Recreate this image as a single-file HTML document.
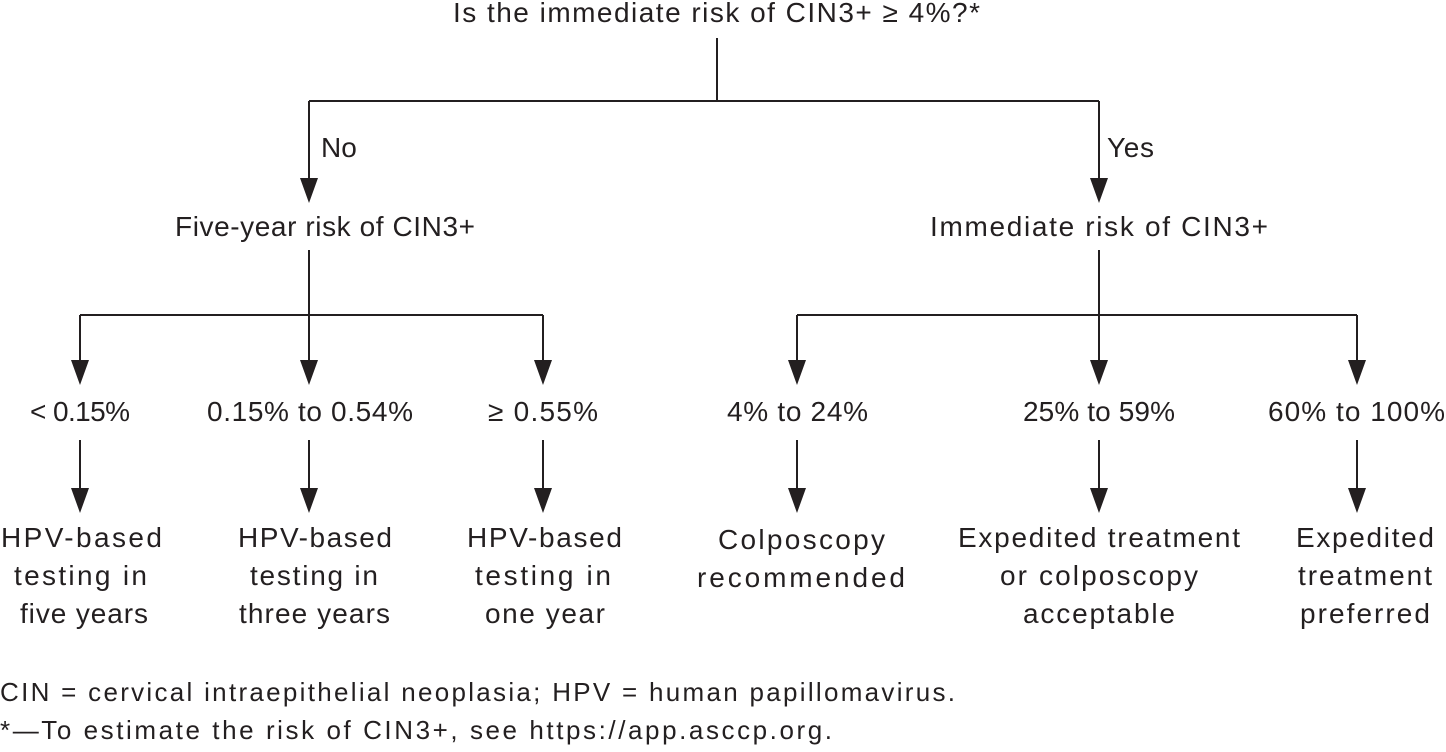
<!DOCTYPE html>
<html><head><style>
html,body{margin:0;padding:0;background:#fff;}
svg{display:block}
text{font-family:"Liberation Sans",sans-serif;fill:#231f20;font-size:28px;}
.f{font-size:26px}
</style></head><body>
<svg width="1446" height="752" viewBox="0 0 1446 752" xmlns="http://www.w3.org/2000/svg">
<g stroke="#231f20" stroke-width="2" fill="none">
<path d="M717,38 V101 M309,101 H1099"/>
<path d="M309,250 V315 M80,315 H543 M797,315 H1357 M1099,250 V315"/>
</g>
<g fill="#231f20">
<path d="M308,101h2v80h-2z M300,178h18l-9,25z"/>
<path d="M1098,101h2v80h-2z M1090,178h18l-9,25z"/>
<path d="M79,315h2v48h-2z M71,360h18l-9,25z"/>
<path d="M308,315h2v48h-2z M300,360h18l-9,25z"/>
<path d="M542,315h2v48h-2z M534,360h18l-9,25z"/>
<path d="M796,315h2v48h-2z M788,360h18l-9,25z"/>
<path d="M1098,315h2v48h-2z M1090,360h18l-9,25z"/>
<path d="M1356,315h2v48h-2z M1348,360h18l-9,25z"/>
<path d="M79,440h2v50h-2z M71,488h18l-9,25z"/>
<path d="M308,440h2v50h-2z M300,488h18l-9,25z"/>
<path d="M542,440h2v50h-2z M534,488h18l-9,25z"/>
<path d="M796,440h2v50h-2z M788,488h18l-9,25z"/>
<path d="M1098,440h2v50h-2z M1090,488h18l-9,25z"/>
<path d="M1356,440h2v50h-2z M1348,488h18l-9,25z"/>
</g>
<g lengthAdjust="spacing">
<text x="453" y="22" textLength="527">Is the immediate risk of CIN3+ ≥ 4%?*</text>
<text x="175" y="236" textLength="300">Five-year risk of CIN3+</text>
<text x="930" y="236" textLength="338">Immediate risk of CIN3+</text>
<text x="30" y="421" textLength="100">&lt; 0.15%</text>
<text x="207" y="421" textLength="206">0.15% to 0.54%</text>
<text x="488" y="421" textLength="110">≥ 0.55%</text>
<text x="727" y="421" textLength="141">4% to 24%</text>
<text x="1023" y="421" textLength="152">25% to 59%</text>
<text x="1268" y="421" textLength="177">60% to 100%</text>
<text x="1" y="547" textLength="161">HPV-based</text><text x="14" y="585" textLength="133">testing in</text><text x="20" y="623" textLength="128">five years</text>
<text x="238" y="547" textLength="154">HPV-based</text><text x="250" y="585" textLength="128">testing in</text><text x="239" y="623" textLength="151">three years</text>
<text x="467" y="547" textLength="155">HPV-based</text><text x="475" y="585" textLength="136">testing in</text><text x="485" y="623" textLength="120">one year</text>
<text x="718" y="549" textLength="167">Colposcopy</text><text x="697" y="587" textLength="208">recommended</text>
<text x="958" y="547" textLength="282">Expedited treatment</text><text x="1000" y="585" textLength="198">or colposcopy</text><text x="1023" y="623" textLength="152">acceptable</text>
<text x="1296" y="547" textLength="138">Expedited</text><text x="1298" y="585" textLength="134">treatment</text><text x="1300" y="623" textLength="130">preferred</text>
<text x="321" y="157">No</text>
<text x="1107" y="157" textLength="47">Yes</text>
<text class="f" x="0" y="701" textLength="955">CIN = cervical intraepithelial neoplasia; HPV = human papillomavirus.</text>
<text class="f" x="0" y="739" textLength="832">*—To estimate the risk of CIN3+, see https://app.asccp.org.</text>
</g>
</svg>
</body></html>
